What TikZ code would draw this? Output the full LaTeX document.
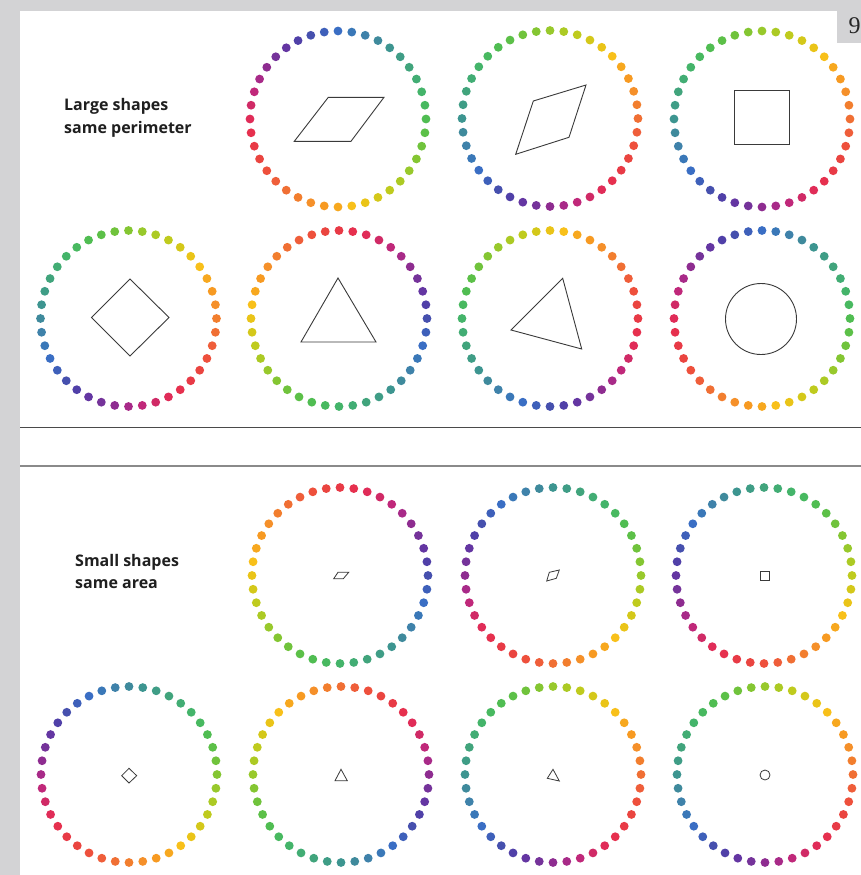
\documentclass[tikz,border=0pt]{standalone}
\usepackage{fontspec}
\setsansfont{Open Sans}
\newfontfamily\pagefont{Liberation Serif}
\definecolor{c0}{HTML}{3A6EC4}
\definecolor{c1}{HTML}{3A78B8}
\definecolor{c2}{HTML}{3F82AA}
\definecolor{c3}{HTML}{3F8A9C}
\definecolor{c4}{HTML}{3D9590}
\definecolor{c5}{HTML}{3F9D86}
\definecolor{c6}{HTML}{41A47C}
\definecolor{c7}{HTML}{42AD74}
\definecolor{c8}{HTML}{44B46A}
\definecolor{c9}{HTML}{48B960}
\definecolor{c10}{HTML}{50BD52}
\definecolor{c11}{HTML}{5CC048}
\definecolor{c12}{HTML}{70C33C}
\definecolor{c13}{HTML}{84C632}
\definecolor{c14}{HTML}{98C92C}
\definecolor{c15}{HTML}{ACCA24}
\definecolor{c16}{HTML}{BFCB1E}
\definecolor{c17}{HTML}{D4C81A}
\definecolor{c18}{HTML}{EAC418}
\definecolor{c19}{HTML}{F8C01A}
\definecolor{c20}{HTML}{F7A81F}
\definecolor{c21}{HTML}{F79A22}
\definecolor{c22}{HTML}{F5902A}
\definecolor{c23}{HTML}{F27E2E}
\definecolor{c24}{HTML}{F06F34}
\definecolor{c25}{HTML}{EF5E3A}
\definecolor{c26}{HTML}{EE503C}
\definecolor{c27}{HTML}{EA4540}
\definecolor{c28}{HTML}{E83A46}
\definecolor{c29}{HTML}{E6304E}
\definecolor{c30}{HTML}{E02C58}
\definecolor{c31}{HTML}{D02A66}
\definecolor{c32}{HTML}{C0287A}
\definecolor{c33}{HTML}{A82A88}
\definecolor{c34}{HTML}{8E2C90}
\definecolor{c35}{HTML}{75339A}
\definecolor{c36}{HTML}{6436A2}
\definecolor{c37}{HTML}{5040A8}
\definecolor{c38}{HTML}{4650AE}
\definecolor{c39}{HTML}{3E60BA}
\definecolor{pagegray}{HTML}{D3D3D5}
\definecolor{shapeline}{HTML}{3A3A3A}
\definecolor{ruleA}{HTML}{4A4A4A}
\definecolor{ruleB}{HTML}{8A8A8A}
\newcommand\dotring[3]{%
  \foreach \i in {0,...,39}{%
    \pgfmathtruncatemacro\ci{mod(\i+#3,40)}%
    \fill[c\ci] ({#1+88*sin(9*\i)},{#2-88*cos(9*\i)}) circle[radius=4.4pt];
  }%
}
\tikzset{
  shapeline/.style={draw=shapeline, line width=0.9pt, line join=miter},
  smallline/.style={draw=shapeline, line width=0.8pt, line join=miter},
  lbl/.style={font=\sffamily\bfseries\fontsize{16}{19}\selectfont, anchor=base west, inner sep=0pt, text=black!88},
}
\begin{document}
\begin{tikzpicture}[x=1pt,y=-1pt]
\useasboundingbox (0,0) rectangle (861,875);
% page
\fill[pagegray] (0,0) rectangle (861,875);
\fill[white] (20,11) rectangle (861,875);
\fill[pagegray] (837,0) rectangle (861,43);
\node[font=\pagefont\fontsize{24}{26}\selectfont, anchor=base west, inner sep=0pt, text=black!85] (pagenum) at (848.5,33.5) {9};
% rules
\draw[ruleA, line width=1.2pt] (20,427.3) -- (861,427.3);
\draw[ruleB, line width=1.3pt] (20,466) -- (861,466);
% labels
\node[lbl] (large1) at (64,110.5) {Large shapes};
\node[lbl] (large2) at (64,133) {same perimeter};
\node[lbl] (small1) at (75,566.5) {Small shapes};
\node[lbl] (small2) at (75,588.5) {same area};
% rings, large
\dotring{338}{119}{0}
\dotring{550}{118.5}{14}
\dotring{762}{119}{14}
\dotring{128.5}{318.5}{13}
\dotring{339}{318.5}{28}
\dotring{550}{318.5}{18}
\dotring{762}{318.5}{0}
% rings, small
\dotring{340}{575.5}{28}
\dotring{553}{575.5}{4}
\dotring{764}{575.5}{6}
\dotring{129}{774.5}{3}
\dotring{341}{774.5}{24}
\dotring{553}{774.5}{14}
\dotring{765}{774.5}{14}
% large shapes
\draw[shapeline] (294.3,141.3) -- (351,141.3) -- (384,97.3) -- (328.3,97.3) -- cycle;
\draw[shapeline] (515.7,154.3) -- (569,137.3) -- (586,85) -- (533.3,101) -- cycle;
\draw[shapeline] (734,90.7) rectangle (789.3,144.7);
\draw[shapeline] (130,279) -- (169,317.5) -- (130,356) -- (91.5,317.5) -- cycle;
\draw[shapeline] (338,278) -- (376,342) -- (301,342) -- cycle;
\draw[shapeline] (562.7,278.3) -- (581.7,349) -- (511,330) -- cycle;
\draw[shapeline] (761,319) circle[radius=35.5pt];
% small shapes
\draw[smallline] (333.7,578.7) -- (343.3,578.7) -- (348.7,572.3) -- (338,572.3) -- cycle;
\draw[smallline] (546.7,581) -- (556.3,578.3) -- (559.3,570) -- (549.3,572.3) -- cycle;
\draw[smallline] (760.3,571.3) rectangle (769.3,580.3);
\draw[smallline] (129,768.3) -- (136.7,775.7) -- (129,783) -- (121.7,775.7) -- cycle;
\draw[smallline] (341,769.3) -- (347.3,780.7) -- (335,780.7) -- cycle;
\draw[smallline] (553,769.3) -- (559.3,781) -- (547.3,778.3) -- cycle;
\draw[smallline] (765,775) circle[radius=5pt];
\end{tikzpicture}
\end{document}
